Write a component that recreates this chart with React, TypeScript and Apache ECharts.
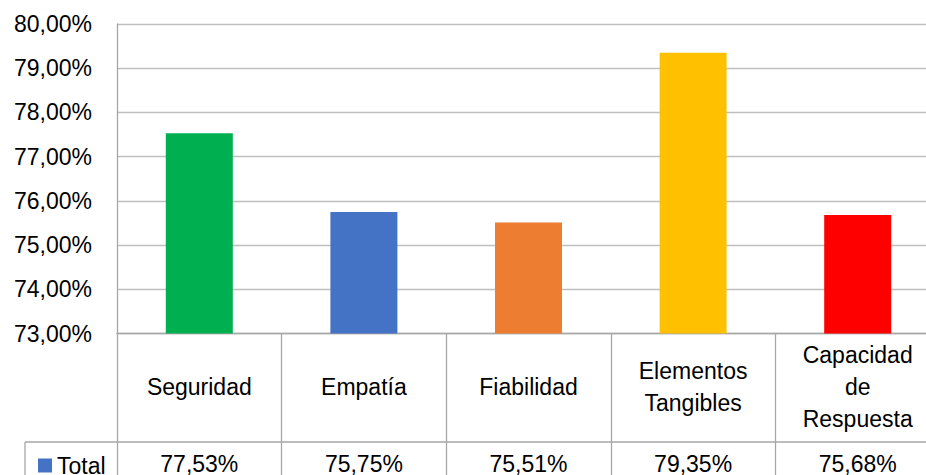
import React, { useEffect, useRef } from "react";
import * as echarts from "echarts";

const categories = ["Seguridad", "Empatía", "Fiabilidad", "Elementos\nTangibles", "Capacidad\nde\nRespuesta"];
const values = [77.53, 75.75, 75.51, 79.35, 75.68];
const colors = ["#00B050", "#4472C4", "#ED7D31", "#FFC000", "#FF0000"];
const seriesName = "Total";
const yMin = 73;
const yMax = 80;
const yStep = 1;

const fmt = (v: number) => v.toFixed(2).replace(".", ",") + "%";
const FONT = "'Liberation Sans', Arial, sans-serif";

export default function App() {
  const ref = useRef<HTMLDivElement>(null);
  useEffect(() => {
    if (!ref.current) return;
    const chart = echarts.init(ref.current, null, { renderer: "svg" });
    chart.setOption({
      animation: false,
      backgroundColor: "#ffffff",
      textStyle: { fontFamily: FONT },
      legend: {
        show: true,
        left: 33,
        top: 449,
        itemWidth: 14,
        itemHeight: 14,
        itemGap: 8,
        icon: "rect",
        data: [seriesName],
        textStyle: { fontSize: 23, color: "#000", fontFamily: FONT },
      },
      grid: { left: 117, top: 24, right: 0, bottom: 140, containLabel: false },
      xAxis: [
        {
          type: "category",
          data: categories,
          position: "bottom",
          axisLine: { show: true, lineStyle: { color: "#a6a6a6", width: 1.3 } },
          axisTick: { show: true, interval: 0, length: 145, lineStyle: { color: "#a6a6a6", width: 1.3 } },
          axisLabel: {
            interval: 0,
            margin: 53,
            verticalAlign: "middle",
            fontSize: 23,
            lineHeight: 32,
            color: "#000",
            fontFamily: FONT,
          },
        },
        {
          type: "category",
          data: values.map(fmt),
          position: "bottom",
          axisLine: { show: false },
          axisTick: { show: false },
          axisLabel: {
            interval: 0,
            margin: 130,
            verticalAlign: "middle",
            fontSize: 23,
            color: "#000",
            fontFamily: FONT,
          },
        },
      ],
      yAxis: {
        type: "value",
        min: yMin,
        max: yMax,
        interval: yStep,
        axisLine: { show: true, lineStyle: { color: "#a6a6a6", width: 1.3 } },
        axisTick: { show: false },
        splitLine: { show: true, lineStyle: { color: "#bfbfbf", width: 1.3 } },
        axisLabel: {
          margin: 25,
          fontSize: 23,
          color: "#000",
          fontFamily: FONT,
          formatter: (v: number) => fmt(v),
        },
      },
      series: [
        {
          name: seriesName,
          type: "bar",
          xAxisIndex: 0,
          barWidth: 67,
          itemStyle: { color: "#4472C4" },
          data: values.map((v, i) => ({ value: v, itemStyle: { color: colors[i] } })),
        },
      ],
      graphic: [
        {
          type: "line",
          shape: { x1: 25, y1: 442, x2: 940, y2: 442 },
          style: { stroke: "#a6a6a6", lineWidth: 1.3 },
          silent: true,
        },
        {
          type: "line",
          shape: { x1: 25, y1: 442, x2: 25, y2: 475 },
          style: { stroke: "#a6a6a6", lineWidth: 1.3 },
          silent: true,
        },
      ],
    });
    return () => chart.dispose();
  }, []);
  return (
    <div style={{ position: "fixed", left: 0, top: 0, width: 926, height: 475, overflow: "hidden", background: "#fff" }}>
      <div ref={ref} style={{ width: 940, height: 475 }} />
    </div>
  );
}
